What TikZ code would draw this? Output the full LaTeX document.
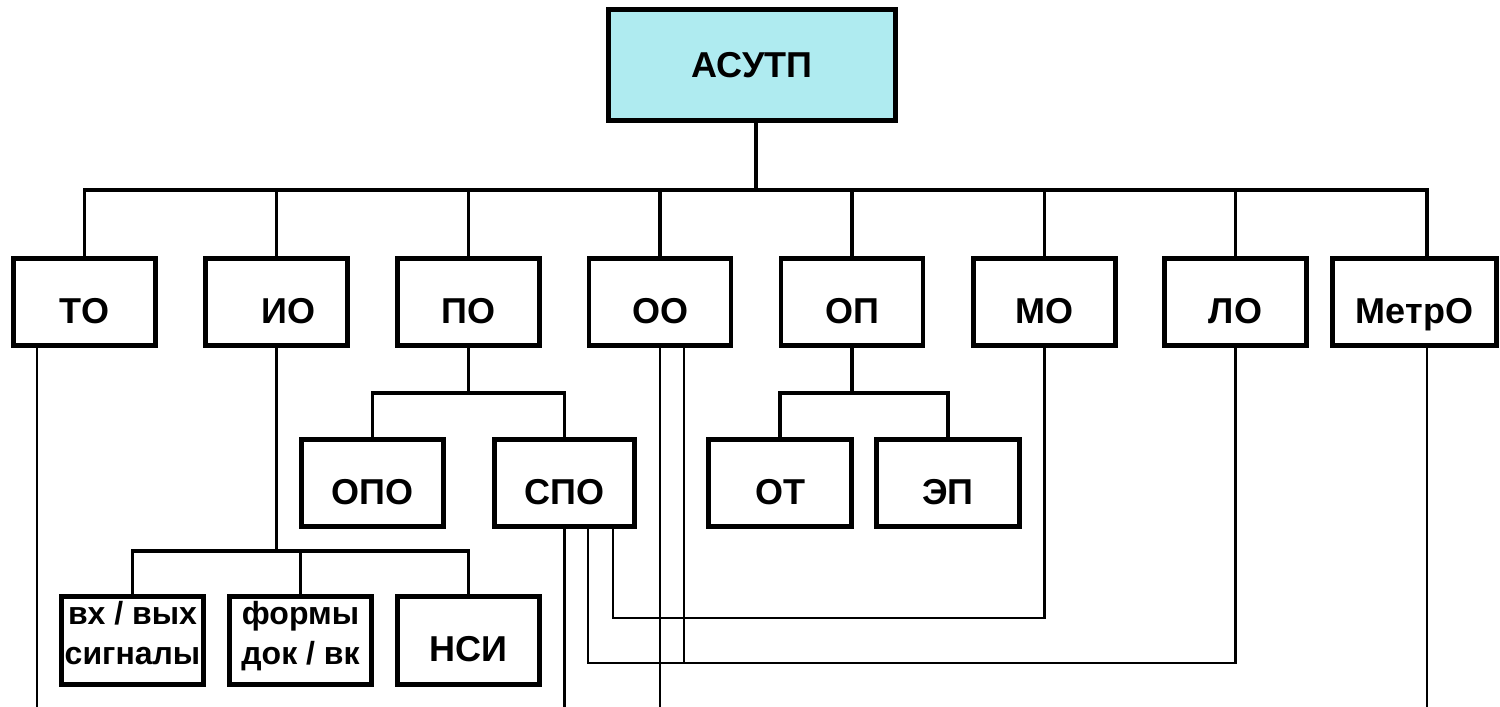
\documentclass[tikz,border=0pt]{standalone}
\usepackage{fontspec}
\setmainfont{Liberation Sans}
\definecolor{rootfill}{RGB}{175,235,240}
\newcommand\boxfont{\bfseries\fontsize{36}{40}\selectfont}
\newcommand\smallboxfont{\bfseries\fontsize{32}{40}\selectfont}
\begin{document}
\begin{tikzpicture}[x=1pt,y=-1pt,
  unit/.style={draw, line width=4.2pt, inner sep=0pt, minimum width=142pt,
    minimum height=87pt, font=\boxfont, text height=42pt, text depth=0pt},
  twoline/.style={unit, font=\smallboxfont, align=center, minimum height=88pt,
    text height=64pt, text depth=17pt},
  tree/.style={line width=3.8pt},
  wire/.style={line width=2.2pt}]
\useasboundingbox (0,0) rectangle (1500,707);

% root
\node[draw, line width=4.2pt, fill=rootfill, inner sep=0pt, minimum width=287pt,
  minimum height=111pt, font=\boxfont] (asutp) at (752,65) {АСУТП};

% first level
\node[unit] (tob)   at (84.5,302)  {ТО};
\node[unit] (iob)   at (276.5,302) {\hspace*{24pt}ИО};
\node[unit] (pob)   at (468.5,302) {ПО};
\node[unit] (oob)   at (660,302)   {ОО};
\node[unit] (opb)   at (852,302)   {ОП};
\node[unit] (mob)   at (1044.5,302) {МО};
\node[unit] (lob)   at (1235.5,302) {ЛО};
\node[unit, minimum width=164pt] (metrob) at (1414.5,302) {МетрО};

% second level
\node[unit] (opo) at (372.5,483) {ОПО};
\node[unit, minimum width=140pt] (spo) at (564.5,483) {СПО};
\node[unit, minimum width=143pt] (ot)  at (780,483)   {ОТ};
\node[unit, minimum width=143pt] (ep)  at (948,483)   {ЭП};

% information support parts
\node[twoline] (sig)   at (132.5,640.5) {вх / вых\\сигналы};
\node[twoline] (forms) at (300.5,640.5) {формы\\док / вк};
\node[unit, minimum height=88pt] (nsi) at (468.5,640.5) {НСИ};

% helper coordinates
\coordinate (bus) at (756,190);
\coordinate (metroin) at (1427,190);
\coordinate (iobus) at (0,551);
\coordinate (subbus) at (0,393);
\coordinate (floor) at (0,707);
\coordinate (tox) at (37,0);
\coordinate (spo2) at (588,0);
\coordinate (spo3) at (613,0);
\coordinate (oo2) at (684,0);
\coordinate (lowa) at (0,618);
\coordinate (lowb) at (0,663);

% main tree
\draw[tree] (asutp.south -| bus) -- (bus);
\draw[tree] (tob.north) |- (metroin) -- (metroin |- metrob.north);
\foreach \n in {iob,pob,oob,opb,mob,lob}
  \draw[tree] (\n.north) -- (\n.north |- bus);

% sub trees
\draw[tree] (iob.south) -- (iob.south |- iobus);
\draw[tree] (sig.north) |- (nsi.north |- iobus) -- (nsi.north);
\draw[tree] (forms.north) -- (forms.north |- iobus);
\draw[tree] (pob.south) -- (pob.south |- subbus);
\draw[tree] (opo.north) |- (spo.north |- subbus) -- (spo.north);
\draw[tree] (opb.south) -- (opb.south |- subbus);
\draw[tree] (ot.north) |- (ep.north |- subbus) -- (ep.north);

% thin links
\draw[wire] (tob.south -| tox) -- (tox |- floor);
\draw[wire] (spo.south) -- (spo.south |- floor);
\draw[wire] (spo.south -| spo3) |- (lowa -| mob.south) -- (mob.south);
\draw[wire] (spo.south -| spo2) |- (lowb -| lob.south) -- (lob.south);
\draw[wire] (oob.south) -- (oob.south |- floor);
\draw[wire] (oob.south -| oo2) -- (oo2 |- lowb);
\draw[wire] (metrob.south -| metroin) -- (metroin |- floor);
\end{tikzpicture}
\end{document}
